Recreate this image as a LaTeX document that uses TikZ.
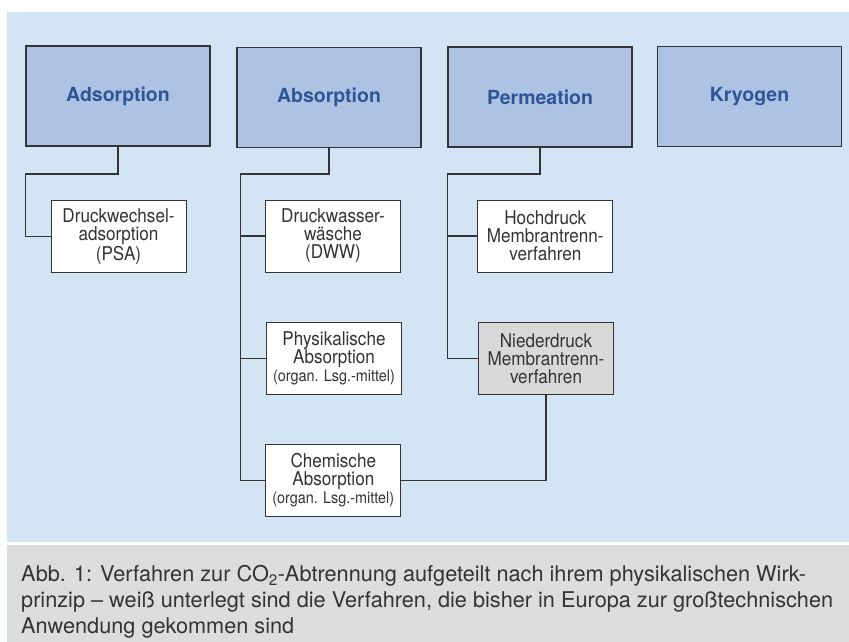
\documentclass[tikz,border=0pt]{standalone}
\usepackage{fontspec}
\setmainfont{TeX Gyre Heros}
\newfontfamily\boxfont[FakeStretch=0.9]{TeX Gyre Heros}
\usetikzlibrary{positioning}

\definecolor{panelblue}{HTML}{D3E4F4}
\definecolor{headfill}{HTML}{AEC3E4}
\definecolor{headtext}{HTML}{2E5596}
\definecolor{capgray}{HTML}{DCDDDF}
\definecolor{lowfill}{HTML}{D9D9D9}
\definecolor{linegray}{HTML}{333333}
\definecolor{txtgray}{HTML}{333333}

\newcommand{\smalltxt}[1]{{\fontsize{16}{18}\selectfont #1}}

\begin{document}
\begin{tikzpicture}[x=1pt, y=-1pt, line cap=rect]

% ------------------------------------------------
% Styles
% ------------------------------------------------
\tikzset{
    head/.style={draw=linegray, line width=1.2pt, fill=headfill, inner sep=0pt,
        minimum width=184pt, minimum height=100pt,
        font=\fontsize{19.5}{22}\selectfont\bfseries, text=headtext},
    proc/.style={draw=linegray, line width=1pt, fill=white, inner sep=0pt,
        minimum width=135pt, minimum height=72pt, align=center,
        font=\boxfont\fontsize{19}{18}\selectfont, text=txtgray},
    lowproc/.style={proc, fill=lowfill},
    link/.style={line width=1.2pt, linegray},
}

% ------------------------------------------------
% Background panels
% ------------------------------------------------
\useasboundingbox (0,0) rectangle (849,642);
\fill[panelblue] (7,12) rectangle (849,542);
\fill[capgray] (7,545) rectangle (849,642);

% ------------------------------------------------
% Main groups
% ------------------------------------------------
\node[head] (ads)  at (118,96)   {Adsorption};
\node[head] (abs)  at (329,97.5) {Absorption};
\node[head] (perm) at (540,97)   {Permeation};
\node[head] (kryo) at (749.5,96.5) {Kryogen};

% ------------------------------------------------
% Processes
% ------------------------------------------------
\node[proc] (psa)  at (118.5,236.7) {Druckwechsel-\\adsorption\\(PSA)};
\node[proc] (dww)  at (333,236)     {Druckwasser-\\wäsche\\(DWW)};
\node[proc] (phys) at (334,358.7)   {Physikalische\\Absorption\\\smalltxt{(organ. Lsg.-mittel)}};
\node[proc] (chem) at (333.3,480.3) {Chemische\\Absorption\\\smalltxt{(organ. Lsg.-mittel)}};
\node[proc] (hoch) at (545.3,236)   {Hochdruck\\Membrantrenn-\\verfahren};
\node[lowproc] (nied) at (546,358.8) {Niederdruck\\Membrantrenn-\\verfahren};

% ------------------------------------------------
% Connectors
% ------------------------------------------------
\coordinate (adsTrunk)  at (25.7,174);
\coordinate (absTrunk)  at (240.7,174);
\coordinate (permTrunk) at (447.7,174);

% adsorption
\draw[link] (ads.south) |- (adsTrunk) |- (psa.west);

% absorption
\draw[link] (abs.south) |- (absTrunk) |- (chem.west);
\draw[link] (absTrunk |- dww.west) -- (dww.west);
\draw[link] (absTrunk |- phys.west) -- (phys.west);

% permeation
\draw[link] (perm.south) |- (permTrunk) |- (nied.west);
\draw[link] (permTrunk |- hoch.west) -- (hoch.west);

% low pressure to chemical absorption
\draw[link] (nied.south) |- (chem.east);

% ------------------------------------------------
% Caption
% ------------------------------------------------
\node[anchor=north west, inner sep=0pt, align=left, text=txtgray,
      font=\fontsize{21.7}{26}\selectfont] (caption) at (21,565)
    {Abb. 1: Verfahren zur CO\textsubscript{2}-Abtrennung aufgeteilt nach ihrem physikalischen Wirk-\\
     prinzip – weiß unterlegt sind die Verfahren, die bisher in Europa zur großtechnischen\\
     Anwendung gekommen sind};

\end{tikzpicture}
\end{document}
